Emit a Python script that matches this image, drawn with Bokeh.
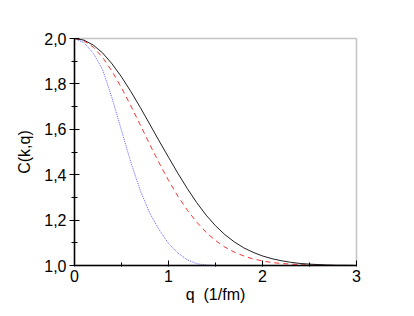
from bokeh.plotting import figure
from bokeh.models import FixedTicker, Range1d
from bokeh.embed import file_html
from bokeh.resources import INLINE

q = [0.0, 0.1, 0.2, 0.3, 0.4, 0.5, 0.6, 0.7, 0.8, 0.9, 1.0, 1.1, 1.2, 1.3, 1.4, 1.5,
     1.6, 1.7, 1.8, 1.9, 2.0, 2.1, 2.2, 2.3, 2.4, 2.5, 2.6, 2.7, 2.8, 2.9, 3.0]

c_black = [2.000, 1.993, 1.971, 1.936, 1.888, 1.831, 1.766, 1.696, 1.623, 1.549, 1.477,
           1.406, 1.339, 1.277, 1.222, 1.175, 1.136, 1.104, 1.078, 1.058, 1.042,
           1.030, 1.021, 1.014, 1.009, 1.006, 1.004, 1.002, 1.001, 1.001, 1.000]

c_red = [2.000, 1.990, 1.962, 1.916, 1.855, 1.783, 1.703, 1.619, 1.534, 1.452, 1.375,
         1.305, 1.244, 1.191, 1.146, 1.110, 1.081, 1.059, 1.042, 1.029, 1.020,
         1.013, 1.009, 1.006, 1.004, 1.002, 1.001, 1.001, 1.000, 1.000, 1.000]

c_blue = [2.000, 1.982, 1.935, 1.862, 1.737, 1.595, 1.454, 1.330, 1.231, 1.158, 1.097,
          1.055, 1.025, 1.008, 1.002, 1.000, 1.000, 1.000, 1.000, 1.000, 1.000,
          1.000, 1.000, 1.000, 1.000, 1.000, 1.000, 1.000, 1.000, 1.000, 1.000]

x_ticks = [0, 1, 2, 3]
x_tick_labels = ["0", "1", "2", "3"]
x_minor = [0.5, 1.5, 2.5]
y_ticks = [1.0, 1.2, 1.4, 1.6, 1.8, 2.0]
y_tick_labels = ["1,0", "1,2", "1,4", "1,6", "1,8", "2,0"]
y_minor = [1.1, 1.3, 1.5, 1.7, 1.9]

p = figure(width=406, height=310, output_backend="svg", toolbar_location=None,
           x_range=Range1d(0, 3), y_range=Range1d(1.0, 2.0),
           min_border_left=74, min_border_right=50, min_border_top=38, min_border_bottom=45)
p.background_fill_color = "white"
p.border_fill_color = "white"
p.outline_line_color = "#c4c4c4"
p.outline_line_width = 1.5
p.xgrid.visible = False
p.ygrid.visible = False

p.line(q, c_blue, line_color="#6060ff", line_width=1, line_dash="1 1")
p.line(q, c_red, line_color="#ff3030", line_width=1, line_dash="5 4")
p.line(q, c_black, line_color="#202020", line_width=1)

FONT = "Liberation Sans"
for ax in (p.xaxis[0], p.yaxis[0]):
    ax.axis_line_color = "black"
    ax.axis_line_width = 1.5
    ax.major_tick_line_color = "black"
    ax.minor_tick_line_color = "black"
    ax.major_label_text_font = FONT
    ax.major_label_text_font_size = "16px"
    ax.major_label_text_color = "black"
    ax.axis_label_text_font = FONT
    ax.axis_label_text_font_size = "16px"
    ax.axis_label_text_font_style = "normal"
    ax.axis_label_text_color = "black"

p.xaxis.ticker = FixedTicker(ticks=x_ticks, minor_ticks=x_minor)
p.xaxis.major_label_overrides = {t: l for t, l in zip(x_ticks, x_tick_labels)}
p.xaxis.major_tick_in = 5
p.xaxis.major_tick_out = 1
p.xaxis.minor_tick_in = 3
p.xaxis.minor_tick_out = 1
p.xaxis.major_label_standoff = 3
p.xaxis.axis_label = "q\u00a0\u00a0(1/fm)"
p.xaxis.axis_label_standoff = 1

p.yaxis.ticker = FixedTicker(ticks=y_ticks, minor_ticks=y_minor)
p.yaxis.major_label_overrides = {t: l for t, l in zip(y_ticks, y_tick_labels)}
p.yaxis.major_tick_in = 5
p.yaxis.major_tick_out = 5
p.yaxis.minor_tick_in = 3
p.yaxis.minor_tick_out = 3
p.yaxis.major_label_standoff = 3
p.yaxis.axis_label = "C(k,q)"
p.yaxis.axis_label_standoff = 8

open("out.html", "w").write(file_html(p, INLINE))
